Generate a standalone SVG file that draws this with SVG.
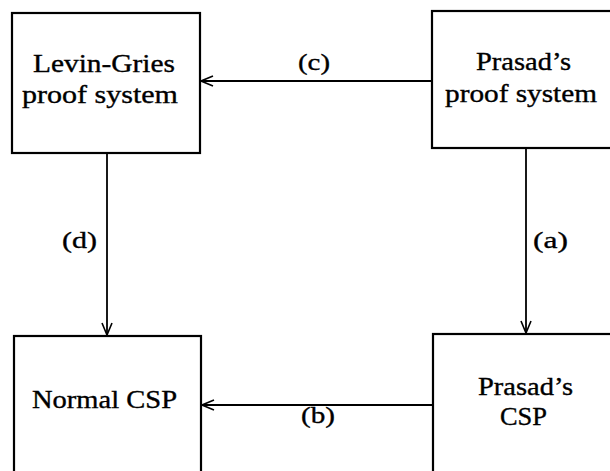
<svg xmlns="http://www.w3.org/2000/svg" width="610" height="471" viewBox="0 0 610 471">
<style>
.box{fill:#fff;stroke:#000;stroke-width:2.2}
.t{font-family:"Liberation Serif","Times New Roman",serif;font-size:25px;fill:#000;stroke:#000;stroke-width:0.35}
.l{font-family:"Liberation Serif","Times New Roman",serif;font-size:24px;fill:#000;stroke:#000;stroke-width:0.35}
.c{stroke:#000;stroke-width:1.8;fill:none}
</style>
<defs>
<marker id="arr" viewBox="0 0 14 12" refX="13" refY="6" markerWidth="14" markerHeight="12" markerUnits="userSpaceOnUse" orient="auto">
<path d="M1,1 L13,6 L1,11" fill="none" stroke="#000" stroke-width="1.6"/>
</marker>
</defs>
<rect width="610" height="471" fill="#fff"/>
<g id="connectors">
<line class="c" x1="432" y1="81" x2="201" y2="81" marker-end="url(#arr)"/>
<line class="c" x1="526" y1="148" x2="526" y2="333" marker-end="url(#arr)"/>
<line class="c" x1="107" y1="153" x2="107" y2="335" marker-end="url(#arr)"/>
<line class="c" x1="433" y1="405" x2="202" y2="405" marker-end="url(#arr)"/>
<text class="l" x="298" y="70" textLength="32" lengthAdjust="spacingAndGlyphs">(c)</text>
<text class="l" x="533" y="248" textLength="35" lengthAdjust="spacingAndGlyphs">(a)</text>
<text class="l" x="62" y="248" textLength="35" lengthAdjust="spacingAndGlyphs">(d)</text>
<text class="l" x="301" y="423" textLength="34" lengthAdjust="spacingAndGlyphs">(b)</text>
</g>
<g id="levin-gries">
<rect class="box" x="12" y="13" width="188" height="140"/>
<text class="t" x="33" y="72" textLength="142" lengthAdjust="spacingAndGlyphs">Levin-Gries</text>
<text class="t" x="22" y="103" textLength="156" lengthAdjust="spacingAndGlyphs">proof system</text>
</g>
<g id="prasad-proof">
<rect class="box" x="432" y="11" width="190" height="137"/>
<text class="t" x="476" y="70" textLength="95" lengthAdjust="spacingAndGlyphs">Prasad’s</text>
<text class="t" x="445" y="102" textLength="152" lengthAdjust="spacingAndGlyphs">proof system</text>
</g>
<g id="normal-csp">
<rect class="box" x="14" y="336" width="187" height="150"/>
<text class="t" x="32" y="408" textLength="145" lengthAdjust="spacingAndGlyphs">Normal CSP</text>
</g>
<g id="prasad-csp">
<rect class="box" x="433" y="334" width="190" height="150"/>
<text class="t" x="478" y="395" textLength="95" lengthAdjust="spacingAndGlyphs">Prasad’s</text>
<text class="t" x="500" y="425" textLength="47" lengthAdjust="spacingAndGlyphs">CSP</text>
</g>
</svg>
